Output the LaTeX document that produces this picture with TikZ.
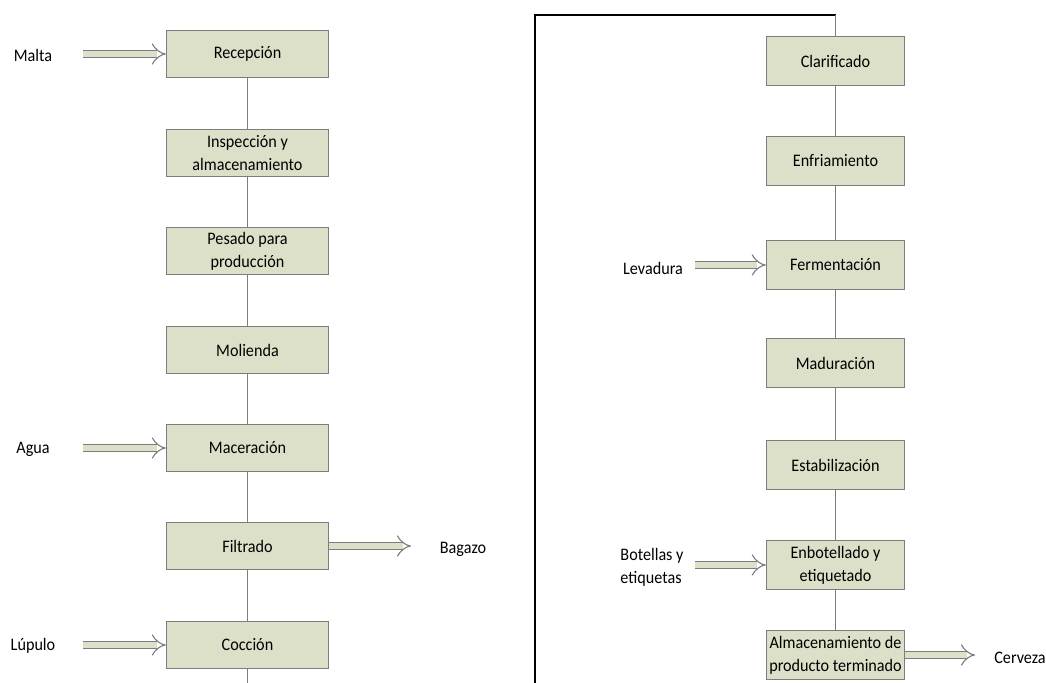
\documentclass[tikz,border=0pt]{standalone}
\usepackage{fontspec}
\setmainfont[FakeStretch=0.92]{Carlito}
\usetikzlibrary{arrows.meta}
\definecolor{cajaverde}{RGB}{221,224,200}
\definecolor{bordegris}{RGB}{125,125,125}
\begin{document}
\begin{tikzpicture}[x=0.025cm, y=-0.025cm,
    etapa/.style={draw=bordegris, fill=cajaverde, line width=0.7pt,
        minimum width=115.5pt, minimum height=34pt, inner sep=1pt,
        align=center, font=\fontsize{12.5}{16.5}\selectfont},
    etapader/.style={etapa, minimum width=98.5pt, minimum height=35.4pt},
    insumo/.style={align=left, inner sep=0pt, font=\fontsize{12.5}{16.5}\selectfont},
    flecha/.style={draw=bordegris, line width=0.8pt, double=cajaverde,
        double distance=4.6pt, -{Implies[length=4.5pt, width=14pt]}},
    linea/.style={draw=bordegris, line width=0.6pt}]
    \useasboundingbox (0,0) rectangle (1046,683);

    % Columna izquierda
    \node[etapa] (recepcion) at (247.5, 54) {Recepción};
    \node[etapa] (inspeccion) at (247.5, 153) {Inspección y\\almacenamiento};
    \node[etapa] (pesado) at (247.5, 251) {Pesado para\\producción};
    \node[etapa] (molienda) at (247.5, 350) {Molienda};
    \node[etapa] (maceracion) at (247.5, 448) {Maceración};
    \node[etapa] (filtrado) at (247.5, 546) {Filtrado};
    \node[etapa] (coccion) at (247.5, 645) {Cocción};

    % Columna derecha
    \node[etapader] (clarificado) at (835.5, 61) {Clarificado};
    \node[etapader] (enfriamiento) at (835.5, 161) {Enfriamiento};
    \node[etapader] (fermentacion) at (835.5, 265) {Fermentación};
    \node[etapader] (maduracion) at (835.5, 363) {Maduración};
    \node[etapader] (estabilizacion) at (835.5, 465) {Estabilización};
    \node[etapader] (enbotellado) at (835.5, 565) {Enbotellado y\\etiquetado};
    \node[etapader] (almacen) at (835.5, 655) {Almacenamiento de\\producto terminado};

    % Entradas y salidas
    \node[insumo] (malta) at (33, 55) {Malta};
    \node[insumo] (agua) at (33, 449) {Agua};
    \node[insumo] (lupulo) at (33, 646) {Lúpulo};
    \node[insumo] (bagazo) at (463, 549) {Bagazo};
    \node[insumo] (levadura) at (653, 268) {Levadura};
    \node[insumo] (botellas) at (652, 567) {Botellas y\\etiquetas};
    \node[insumo] (cerveza) at (1020, 658) {Cerveza};

    \coordinate (cMalta) at (83, 54);
    \coordinate (cAgua) at (83, 448);
    \coordinate (cLupulo) at (83, 645);
    \coordinate (cBagazo) at (411, 546);
    \coordinate (cLevadura) at (695, 265);
    \coordinate (cBotellas) at (695, 565);
    \coordinate (cCerveza) at (975, 655);

    % Recorrido de la columna izquierda a la derecha
    \coordinate (bajaIzq) at (247.5, 683);
    \coordinate (subeDer) at (535, 683);
    \coordinate (esqIzq) at (535, 15);
    \coordinate (esqDer) at (835.5, 15);

    % Relaciones
    \draw[linea] (recepcion) -- (inspeccion);
    \draw[linea] (inspeccion) -- (pesado);
    \draw[linea] (pesado) -- (molienda);
    \draw[linea] (molienda) -- (maceracion);
    \draw[linea] (maceracion) -- (filtrado);
    \draw[linea] (filtrado) -- (coccion);
    \draw[linea] (coccion) -- (bajaIzq);

    \draw[black, line width=1pt] (subeDer) -- (esqIzq) -- (esqDer);
    \draw[linea] (esqDer) -- (clarificado);
    \draw[linea] (clarificado) -- (enfriamiento);
    \draw[linea] (enfriamiento) -- (fermentacion);
    \draw[linea] (fermentacion) -- (maduracion);
    \draw[linea] (maduracion) -- (estabilizacion);
    \draw[linea] (estabilizacion) -- (enbotellado);
    \draw[linea] (enbotellado) -- (almacen);

    \draw[flecha] (cMalta) -- (recepcion);
    \draw[flecha] (cAgua) -- (maceracion);
    \draw[flecha] (cLupulo) -- (coccion);
    \draw[flecha] (filtrado) -- (cBagazo);
    \draw[flecha] (cLevadura) -- (fermentacion);
    \draw[flecha] (cBotellas) -- (enbotellado);
    \draw[flecha] (almacen) -- (cCerveza);

\end{tikzpicture}
\end{document}
